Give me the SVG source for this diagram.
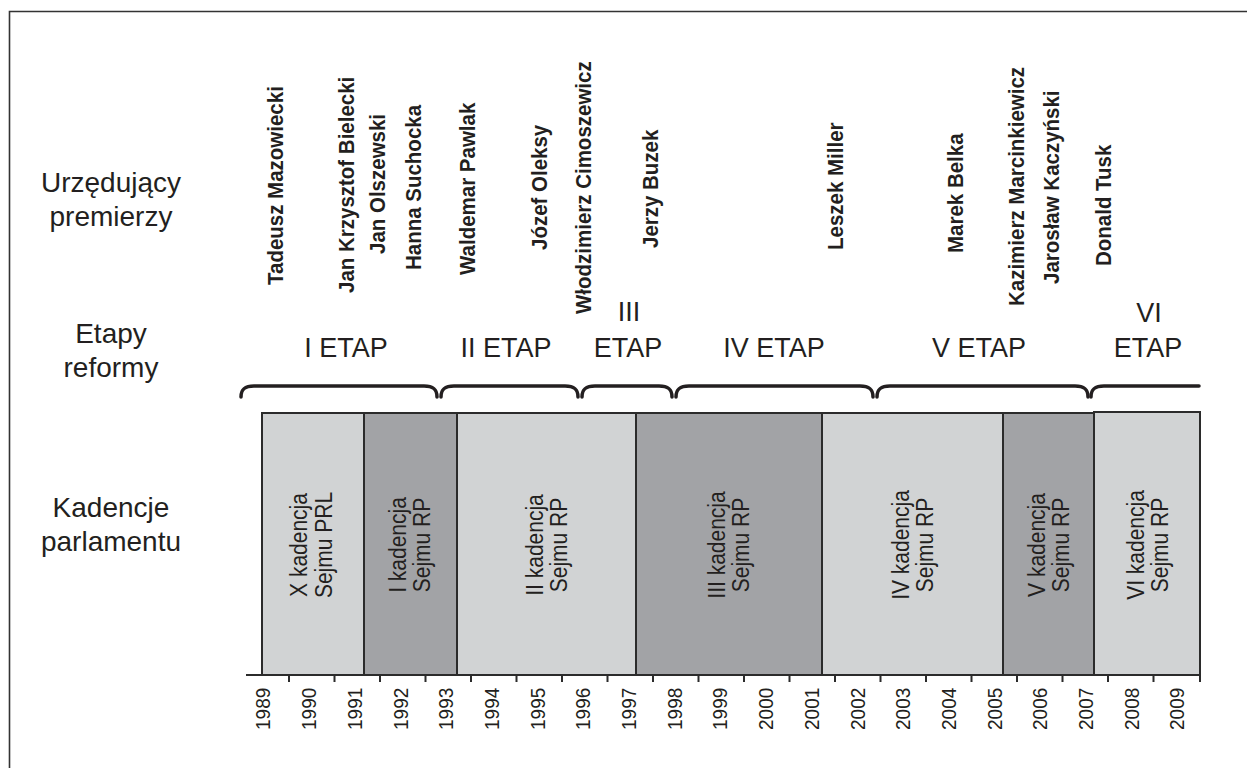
<svg xmlns="http://www.w3.org/2000/svg" width="1247" height="768" viewBox="0 0 1247 768">
<style>
text{font-family:"Liberation Sans",Arial,Helvetica,sans-serif;fill:#231f20}
.lbl{font-size:28px;text-anchor:middle}
.etap{font-size:27px;text-anchor:middle}
.nm{font-size:20.5px;font-weight:bold}
.kad{font-size:21px;text-anchor:middle}
.yr{font-size:19px}
.light{fill:#d1d3d4;stroke:#2b2b2b;stroke-width:2}
.dark{fill:#a2a3a6;stroke:#2b2b2b;stroke-width:2}
.brace{fill:none;stroke:#231f20;stroke-width:3.5;stroke-linecap:round}
.ax{fill:none;stroke:#2b2b2b;stroke-width:2}
</style>
<rect x="0" y="0" width="1247" height="768" fill="#ffffff"/>
<path d="M9.5,768 V11.5 H1247" fill="none" stroke="#333" stroke-width="1.6"/>

<g id="row-labels">
<text class="lbl" x="111" y="192">Urzędujący</text>
<text class="lbl" x="111" y="226">premierzy</text>
<text class="lbl" x="111" y="343">Etapy</text>
<text class="lbl" x="111" y="377">reformy</text>
<text class="lbl" x="111" y="517">Kadencje</text>
<text class="lbl" x="111" y="551">parlamentu</text>
</g>

<g id="premierzy">
<text class="nm" transform="translate(275,285) rotate(-90) scale(1,1.1)" y="7.3">Tadeusz Mazowiecki</text>
<text class="nm" transform="translate(346,293) rotate(-90) scale(1,1.1)" y="7.3">Jan Krzysztof Bielecki</text>
<text class="nm" transform="translate(376.5,254) rotate(-90) scale(1,1.1)" y="7.3">Jan Olszewski</text>
<text class="nm" transform="translate(413,270) rotate(-90) scale(1,1.1)" y="7.3">Hanna Suchocka</text>
<text class="nm" transform="translate(466.5,275) rotate(-90) scale(1,1.1)" y="7.3">Waldemar Pawlak</text>
<text class="nm" transform="translate(539,250) rotate(-90) scale(1,1.1)" y="7.3">Józef Oleksy</text>
<text class="nm" transform="translate(582.5,314) rotate(-90) scale(1,1.1)" y="7.3">Włodzimierz Cimoszewicz</text>
<text class="nm" transform="translate(650,248) rotate(-90) scale(1,1.1)" y="7.3">Jerzy Buzek</text>
<text class="nm" transform="translate(834.5,250) rotate(-90) scale(1,1.1)" y="7.3">Leszek Miller</text>
<text class="nm" transform="translate(955,253) rotate(-90) scale(1,1.1)" y="7.3">Marek Belka</text>
<text class="nm" transform="translate(1015.5,306) rotate(-90) scale(1,1.1)" y="7.3">Kazimierz Marcinkiewicz</text>
<text class="nm" transform="translate(1051,284) rotate(-90) scale(1,1.1)" y="7.3">Jarosław Kaczyński</text>
<text class="nm" transform="translate(1103,266) rotate(-90) scale(1,1.1)" y="7.3">Donald Tusk</text>
</g>

<g id="etapy">
<g id="etap-1"><text class="etap" x="346" y="357">I ETAP</text><path class="brace" d="M241,397 C241,389 245,386 254,386 H424 C433,386 437,389 437,397"/></g>
<g id="etap-2"><text class="etap" x="506" y="357">II ETAP</text><path class="brace" d="M441,397 C441,389 445,386 454,386 H565 C574,386 578,389 578,397"/></g>
<g id="etap-3"><text class="etap" x="629" y="321">III</text><text class="etap" x="628" y="357">ETAP</text><path class="brace" d="M582,397 C582,389 586,386 595,386 H659 C668,386 672,389 672,397"/></g>
<g id="etap-4"><text class="etap" x="774" y="357">IV ETAP</text><path class="brace" d="M676,397 C676,389 680,386 689,386 H860 C869,386 873,389 873,397"/></g>
<g id="etap-5"><text class="etap" x="979" y="357">V ETAP</text><path class="brace" d="M877,397 C877,389 881,386 890,386 H1075 C1084,386 1088,389 1088,397"/></g>
<g id="etap-6"><text class="etap" x="1149" y="322">VI</text><text class="etap" x="1148" y="357">ETAP</text><path class="brace" d="M1091,397 C1091,389 1095,386 1104,386 H1199"/></g>
</g>

<g id="kadencje">
<g id="kad-x"><rect class="light" x="262" y="413" width="102" height="262"/>
<text class="kad" transform="translate(298.5,545) rotate(-90) scale(1,1.1)" y="7.5">X kadencja</text>
<text class="kad" transform="translate(323.5,545) rotate(-90) scale(1,1.1)" y="7.5">Sejmu PRL</text></g>
<g id="kad-1"><rect class="dark" x="364" y="413" width="93" height="262"/>
<text class="kad" transform="translate(397.5,545) rotate(-90) scale(1,1.1)" y="7.5">I kadencja</text>
<text class="kad" transform="translate(422,545) rotate(-90) scale(1,1.1)" y="7.5">Sejmu RP</text></g>
<g id="kad-2"><rect class="light" x="457" y="413" width="179" height="262"/>
<text class="kad" transform="translate(534.5,545) rotate(-90) scale(1,1.1)" y="7.5">II kadencja</text>
<text class="kad" transform="translate(558.5,545) rotate(-90) scale(1,1.1)" y="7.5">Sejmu RP</text></g>
<g id="kad-3"><rect class="dark" x="636" y="413" width="186" height="262"/>
<text class="kad" transform="translate(717,545) rotate(-90) scale(1,1.1)" y="7.5">III kadencja</text>
<text class="kad" transform="translate(741,545) rotate(-90) scale(1,1.1)" y="7.5">Sejmu RP</text></g>
<g id="kad-4"><rect class="light" x="822" y="413" width="181" height="262"/>
<text class="kad" transform="translate(900.5,545) rotate(-90) scale(1,1.1)" y="7.5">IV kadencja</text>
<text class="kad" transform="translate(924.5,545) rotate(-90) scale(1,1.1)" y="7.5">Sejmu RP</text></g>
<g id="kad-5"><rect class="dark" x="1003" y="413" width="91" height="262"/>
<text class="kad" transform="translate(1036.5,545) rotate(-90) scale(1,1.1)" y="7.5">V kadencja</text>
<text class="kad" transform="translate(1060.5,545) rotate(-90) scale(1,1.1)" y="7.5">Sejmu RP</text></g>
<g id="kad-6"><rect class="light" x="1094" y="412" width="106" height="263"/>
<text class="kad" transform="translate(1136,545) rotate(-90) scale(1,1.1)" y="7.5">VI kadencja</text>
<text class="kad" transform="translate(1160,545) rotate(-90) scale(1,1.1)" y="7.5">Sejmu RP</text></g>
</g>

<g id="axis">
<path class="ax" d="M246,675 H1201 M289,675 v7 M334.5,675 v7 M380,675 v7 M425.5,675 v7 M471,675 v7 M516.5,675 v7 M562,675 v7 M607.5,675 v7 M653,675 v7 M698.5,675 v7 M744,675 v7 M789.5,675 v7 M835,675 v7 M880.5,675 v7 M926,675 v7 M971.5,675 v7 M1017,675 v7 M1062.5,675 v7 M1108,675 v7 M1153.5,675 v7 M1200,668 v14"/>
<text class="yr" transform="translate(263,730) rotate(-90) scale(1,1.1)" y="6.8">1989</text>
<text class="yr" transform="translate(308.7,730) rotate(-90) scale(1,1.1)" y="6.8">1990</text>
<text class="yr" transform="translate(354.4,730) rotate(-90) scale(1,1.1)" y="6.8">1991</text>
<text class="yr" transform="translate(400.1,730) rotate(-90) scale(1,1.1)" y="6.8">1992</text>
<text class="yr" transform="translate(445.8,730) rotate(-90) scale(1,1.1)" y="6.8">1993</text>
<text class="yr" transform="translate(491.5,730) rotate(-90) scale(1,1.1)" y="6.8">1994</text>
<text class="yr" transform="translate(537.2,730) rotate(-90) scale(1,1.1)" y="6.8">1995</text>
<text class="yr" transform="translate(582.9,730) rotate(-90) scale(1,1.1)" y="6.8">1996</text>
<text class="yr" transform="translate(628.6,730) rotate(-90) scale(1,1.1)" y="6.8">1997</text>
<text class="yr" transform="translate(674.3,730) rotate(-90) scale(1,1.1)" y="6.8">1998</text>
<text class="yr" transform="translate(720,730) rotate(-90) scale(1,1.1)" y="6.8">1999</text>
<text class="yr" transform="translate(765.7,730) rotate(-90) scale(1,1.1)" y="6.8">2000</text>
<text class="yr" transform="translate(811.4,730) rotate(-90) scale(1,1.1)" y="6.8">2001</text>
<text class="yr" transform="translate(857.1,730) rotate(-90) scale(1,1.1)" y="6.8">2002</text>
<text class="yr" transform="translate(902.8,730) rotate(-90) scale(1,1.1)" y="6.8">2003</text>
<text class="yr" transform="translate(948.5,730) rotate(-90) scale(1,1.1)" y="6.8">2004</text>
<text class="yr" transform="translate(994.2,730) rotate(-90) scale(1,1.1)" y="6.8">2005</text>
<text class="yr" transform="translate(1039.9,730) rotate(-90) scale(1,1.1)" y="6.8">2006</text>
<text class="yr" transform="translate(1085.6,730) rotate(-90) scale(1,1.1)" y="6.8">2007</text>
<text class="yr" transform="translate(1131.3,730) rotate(-90) scale(1,1.1)" y="6.8">2008</text>
<text class="yr" transform="translate(1177,730) rotate(-90) scale(1,1.1)" y="6.8">2009</text>
</g>
</svg>
